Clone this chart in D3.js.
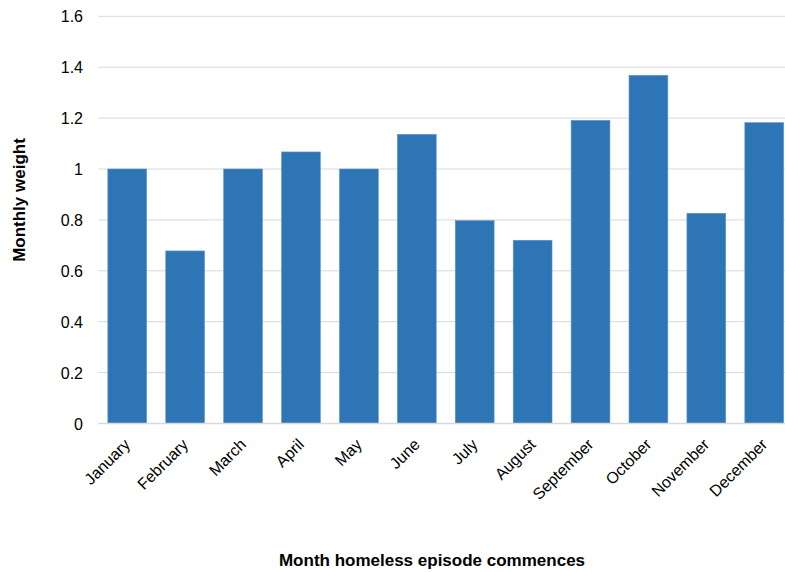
<!DOCTYPE html>
<html>
<head>
<meta charset="utf-8">
<script src="https://cdn.jsdelivr.net/npm/d3@7"></script>
<style>
  html, body { margin: 0; padding: 0; background: #fff; }
  svg { display: block; font-family: "Liberation Sans", Arial, sans-serif; }
</style>
</head>
<body>
<svg id="chart" width="785" height="572"></svg>
<script>
// Monthly weighting factors by the month a homeless episode begins
const months = ["January", "February", "March", "April", "May", "June",
                "July", "August", "September", "October", "November", "December"];
const weights = [1.0, 0.678, 1.0, 1.067, 1.0, 1.136, 0.797, 0.72, 1.191, 1.368, 0.826, 1.182];
const yTicks = [0, 0.2, 0.4, 0.6, 0.8, 1, 1.2, 1.4, 1.6];

const svg = d3.select("#chart");

const x = d3.scaleBand()
  .domain(months)
  .range([98.3, 793.2])
  .paddingInner(0.33)
  .paddingOuter(0.165);

const y = d3.scaleLinear()
  .domain([0, 1.6])
  .range([423.5, 16.3]);

// horizontal gridlines
svg.append("g")
  .selectAll("line")
  .data(yTicks.filter(d => d > 0))
  .join("line")
  .attr("x1", 98.3)
  .attr("x2", 785)
  .attr("y1", d => y(d))
  .attr("y2", d => y(d))
  .attr("stroke", "#d9d9d9")
  .attr("stroke-width", 1);

// bars
svg.append("g")
  .selectAll("rect")
  .data(months.map((m, i) => ({ m, v: weights[i] })))
  .join("rect")
  .attr("x", d => x(d.m))
  .attr("width", x.bandwidth())
  .attr("y", d => y(d.v))
  .attr("height", d => y(0) - y(d.v))
  .attr("fill", "#2e75b6")
  .attr("stroke", "#5b93cc")
  .attr("stroke-width", 0.6);

// baseline
svg.append("line")
  .attr("x1", 98.3)
  .attr("x2", 785)
  .attr("y1", y(0))
  .attr("y2", y(0))
  .attr("stroke", "#d9d9d9")
  .attr("stroke-width", 1.5);

// y axis labels
const yAxis = d3.axisLeft(y)
  .tickValues(yTicks)
  .tickFormat(d => String(d))
  .tickSize(0)
  .tickPadding(0);

svg.append("g")
  .attr("transform", "translate(83,0)")
  .call(yAxis)
  .call(g => g.select(".domain").remove())
  .call(g => g.selectAll("text")
    .attr("font-family", "Liberation Sans, Arial, sans-serif")
    .attr("font-size", 16)
    .attr("fill", "#000")
    .attr("dy", "0.35em"));

// x axis labels, rotated about the end of each label
const xAxis = d3.axisBottom(x).tickSize(0).tickPadding(0);
svg.append("g")
  .attr("transform", `translate(0,${y(0)})`)
  .call(xAxis)
  .call(g => g.select(".domain").remove())
  .call(g => g.selectAll("text")
    .attr("font-family", "Liberation Sans, Arial, sans-serif")
    .attr("font-size", 16)
    .attr("fill", "#000")
    .attr("text-anchor", "end")
    .attr("x", 0)
    .attr("y", 0)
    .attr("dy", 0)
    .attr("transform", "translate(4,22) rotate(-45)"));

// axis titles
svg.append("text")
  .attr("transform", "translate(25,200) rotate(-90)")
  .attr("text-anchor", "middle")
  .attr("font-weight", "bold")
  .attr("font-size", 17)
  .text("Monthly weight");

svg.append("text")
  .attr("x", 432)
  .attr("y", 566)
  .attr("text-anchor", "middle")
  .attr("font-weight", "bold")
  .attr("font-size", 17)
  .text("Month homeless episode commences");
</script>
</body>
</html>
